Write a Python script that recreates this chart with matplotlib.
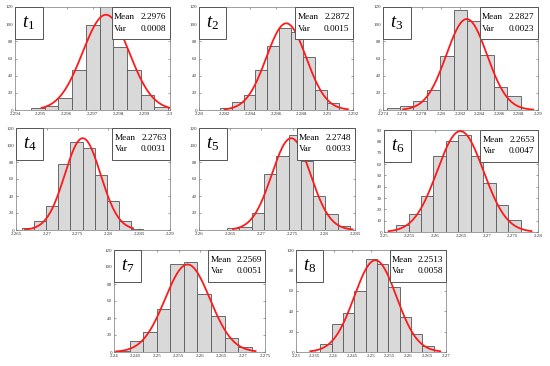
import numpy as np
import matplotlib
matplotlib.use('Agg')
import matplotlib.pyplot as plt
from matplotlib.patches import Rectangle

plt.rcParams['font.family'] = 'Liberation Serif'
plt.rcParams['mathtext.fontset'] = 'custom'
plt.rcParams['mathtext.it'] = 'Liberation Serif:italic'
plt.rcParams['mathtext.rm'] = 'Liberation Serif'

# panel labels and statistics
names = ['1', '2', '3', '4', '5', '6', '7', '8']
means = ['2.2976', '2.2872', '2.2827', '2.2763', '2.2748', '2.2653', '2.2569', '2.2513']
variances = ['0.0008', '0.0015', '0.0023', '0.0031', '0.0033', '0.0047', '0.0051', '0.0058']

# histogram counts (10 bins each)
c1 = [2, 5, 14, 47, 99, 130, 73, 47, 18, 4]
c2 = [2, 9, 17, 47, 75, 95, 91, 62, 23, 8]
c3 = [2, 5, 11, 23, 63, 116, 104, 64, 27, 16]
c4 = [2, 11, 28, 78, 103, 96, 65, 34, 11, 1]
c5 = [2, 4, 20, 66, 87, 112, 81, 40, 19, 5]
c6 = [6, 16, 32, 67, 80, 86, 67, 43, 24, 11]
c7 = [1, 13, 23, 51, 103, 106, 68, 42, 16, 6]
c8 = [8, 27, 38, 60, 91, 86, 64, 34, 18, 6]
counts = [c1, c2, c3, c4, c5, c6, c7, c8]

# bin range (first edge, last edge)
bin_lo = [2.29462, 2.28161, 2.27438, 2.26593, 2.2645, 2.25235, 2.2405, 2.23649]
bin_hi = [2.29993, 2.29091, 2.28821, 2.28567, 2.2842, 2.27663, 2.2719, 2.26671]

# fitted normal curve: centre, sigma, peak height, drawn range
fit_mu = [2.29752, 2.2868, 2.28264, 2.27583, 2.27477, 2.26487, 2.25704, 2.25116]
fit_sd = [0.0009, 0.00155, 0.0021, 0.0029, 0.0031, 0.0045, 0.0052, 0.0056]
fit_pk = [111, 101, 106, 108, 108, 89, 103, 90]
fit_lo = [2.29503, 2.2820, 2.2761, 2.26646, 2.26544, 2.25089, 2.2405, 2.23382]
fit_hi = [2.3, 2.2916, 2.2895, 2.2840, 2.28463, 2.27873, 2.27282, 2.26849]

# axis limits / ticks
x_min = [2.294, 2.28, 2.274, 2.265, 2.26, 2.25, 2.24, 2.23]
x_max = [2.3, 2.292, 2.29, 2.29, 2.285, 2.28, 2.275, 2.27]
x_step = [0.001, 0.002, 0.002, 0.005, 0.005, 0.005, 0.005, 0.005]
y_max = [120, 120, 120, 120, 120, 90, 120, 100]
y_step = [20, 20, 20, 20, 20, 10, 20, 20]

# axes boxes in pixels: left, top, right, bottom
W, H = 550, 366
boxes = [(15, 7, 170, 110), (199, 7, 353, 110), (383, 7, 538, 110),
         (16, 128, 170, 230), (199, 128, 355, 230), (384, 130, 538, 232),
         (114, 250, 265, 352), (296, 250, 446, 352)]

fig = plt.figure(figsize=(5.5, 3.66), dpi=100)

for i in range(8):
    l, t, r, b = boxes[i]
    ax = fig.add_axes([l / W, 1 - b / H, (r - l) / W, (b - t) / H])

    edges = np.linspace(bin_lo[i], bin_hi[i], len(counts[i]) + 1)
    ax.bar(edges[:-1], counts[i], width=np.diff(edges), align='edge',
           color='#d9d9d9', edgecolor='#5f5f5f', linewidth=0.65, zorder=2)

    xs = np.linspace(fit_lo[i], fit_hi[i], 300)
    ys = fit_pk[i] * np.exp(-0.5 * ((xs - fit_mu[i]) / fit_sd[i]) ** 2)
    ax.plot(xs, ys, color='#ff1a1a', linewidth=1.3, zorder=3)

    ax.set_xlim(x_min[i], x_max[i])
    ax.set_ylim(0, y_max[i])
    xt = np.arange(x_min[i], x_max[i] + x_step[i] / 2, x_step[i])
    ax.set_xticks(xt)
    ax.set_xticklabels(['%g' % round(v, 3) for v in xt])
    ax.set_yticks(np.arange(0, y_max[i] + 1, y_step[i]))
    ax.tick_params(direction='in', length=1.5, width=0.4, labelsize=3.6,
                   pad=1.5, top=True, right=True, colors='#555555',
                   labelcolor='#333333')
    for s in ax.spines.values():
        s.set_linewidth(0.5)
        s.set_color('#777777')

    # label box top-left
    ax.add_patch(Rectangle((0, 0.69), 0.178, 0.31, transform=ax.transAxes,
                           facecolor='white', edgecolor='#555555',
                           linewidth=0.7, zorder=5, clip_on=False))
    ax.text(0.089, 0.84, r'$t_{\mathrm{%s}}$' % names[i], transform=ax.transAxes,
            fontsize=13.5, ha='center', va='center', zorder=6)

    # mean / var box top-right
    ax.add_patch(Rectangle((0.625, 0.69), 0.375, 0.31, transform=ax.transAxes,
                           facecolor='white', edgecolor='#555555',
                           linewidth=0.7, zorder=5, clip_on=False))
    ax.text(0.64, 0.905, 'Mean', transform=ax.transAxes, fontsize=6.7,
            ha='left', va='center', zorder=6)
    ax.text(0.978, 0.905, means[i], transform=ax.transAxes, fontsize=6.7,
            ha='right', va='center', zorder=6)
    ax.text(0.64, 0.79, 'Var', transform=ax.transAxes, fontsize=6.7,
            ha='left', va='center', zorder=6)
    ax.text(0.978, 0.79, variances[i], transform=ax.transAxes, fontsize=6.7,
            ha='right', va='center', zorder=6)

plt.savefig('out.png', dpi=100)
